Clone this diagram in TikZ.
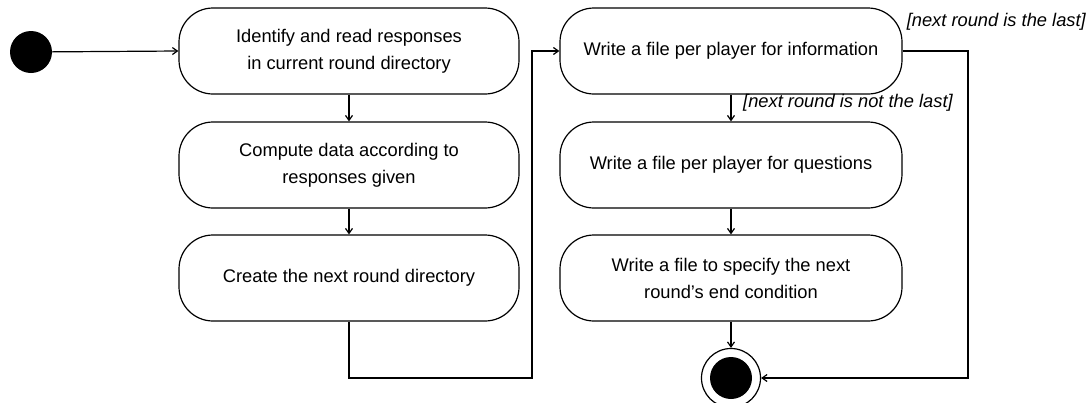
\documentclass[tikz,border=0pt]{standalone}
\usepackage{fontspec}
\setmainfont{Liberation Sans}
\usetikzlibrary{arrows.meta}
\begin{document}
\begin{tikzpicture}[x=1pt,y=1pt,
  act/.style={draw, line width=1.2pt, rounded corners=34pt,
    minimum width=340pt, minimum height=86pt, inner sep=0pt,
    align=center, font=\fontsize{18.3}{27}\selectfont},
  flow/.style={draw, line width=1.2pt, -{Straight Barb[length=5pt,width=7pt]}},
  guard/.style={font=\fontsize{18.3}{20}\selectfont\itshape, inner sep=0pt}]
\useasboundingbox (0,0) rectangle (1088,-402);

% initial state
\node[circle, fill, minimum size=42pt, inner sep=0pt] (init) at (31,-52) {};

% left column of activities
\node[act] (b1) at (349,-51)  {Identify and read responses\\in current round directory};
\node[act] (b2) at (349,-165) {Compute data according to\\responses given};
\node[act] (b3) at (349,-278) {Create the next round directory};

% right column of activities
\node[act, minimum width=342pt] (b4) at (731,-51)  {Write a file per player for information};
\node[act, minimum width=342pt] (b5) at (731,-165) {Write a file per player for questions};
\node[act, minimum width=342pt] (b6) at (731,-278) {Write a file to specify the next\\round's end condition};

% final state
\node[circle, draw, line width=1.2pt, minimum size=59pt, inner sep=0pt] (fin) at (731,-378) {};
\fill (fin.center) circle (21pt);

% guards
\node[guard, anchor=east] (g1) at (1086,-22) {[next round is the last]};
\node[guard, anchor=west] (g2) at (743,-103) {[next round is not the last]};

% routing corners
\coordinate (c1) at (532,-378);
\coordinate (c2) at (968,-378);

% transitions
\draw[flow] (init) -- (b1.west);
\draw[flow] (b1) -- (b2);
\draw[flow] (b2) -- (b3);
\draw[flow] (b3.south) |- (c1) |- (b4.west);
\draw[flow] (b4) -- (b5);
\draw[flow] (b5) -- (b6);
\draw[flow] (b6) -- (fin);
\draw[flow] (b4.east) -| (c2) -- (fin.east);
\end{tikzpicture}
\end{document}
